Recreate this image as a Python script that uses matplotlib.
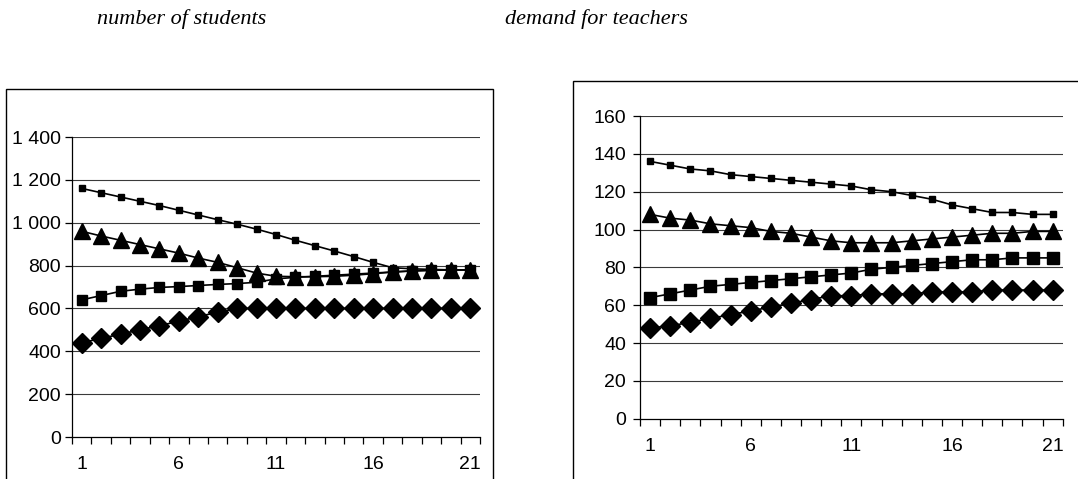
import matplotlib.pyplot as plt
import matplotlib.patches as mpatches
from matplotlib.ticker import FixedLocator, FuncFormatter, NullFormatter

periods = list(range(1, 22))

# number of students
students_a = [1160, 1140, 1120, 1100, 1080, 1058, 1036, 1014, 993, 970, 945,
              918, 893, 868, 842, 815, 790, 785, 782, 780, 780]
students_b = [960, 938, 918, 898, 878, 858, 835, 815, 790, 765, 750,
              748, 748, 750, 755, 762, 770, 775, 778, 780, 780]
students_c = [640, 660, 680, 690, 698, 702, 707, 712, 716, 722, 738,
              745, 750, 755, 760, 765, 770, 775, 778, 780, 780]
students_d = [440, 460, 480, 500, 520, 540, 562, 582, 600, 600, 600,
              600, 600, 600, 600, 600, 600, 600, 600, 600, 600]

# demand for teachers
teachers_a = [136, 134, 132, 131, 129, 128, 127, 126, 125, 124, 123,
              121, 120, 118, 116, 113, 111, 109, 109, 108, 108]
teachers_b = [108, 106, 105, 103, 102, 101, 99, 98, 96, 94, 93,
              93, 93, 94, 95, 96, 97, 98, 98, 99, 99]
teachers_c = [64, 66, 68, 70, 71, 72, 73, 74, 75, 76, 77,
              79, 80, 81, 82, 83, 84, 84, 85, 85, 85]
teachers_d = [48, 49, 51, 53, 55, 57, 59, 61, 63, 65, 65,
              66, 66, 66, 67, 67, 67, 68, 68, 68, 68]

x_labels = [1, 6, 11, 16, 21]

TICK_FONT = 'Liberation Sans'


def thousands(v, pos):
    return f"{int(v):,}".replace(',', ' ')


def style_axes(ax, ymax, ystep, fmt=None, ypad=5):
    ax.set_xlim(0.5, 21.5)
    ax.set_ylim(0, ymax)
    for s in ['top', 'right']:
        ax.spines[s].set_visible(False)
    for s in ['left', 'bottom']:
        ax.spines[s].set_color('black')
        ax.spines[s].set_linewidth(0.9)
    # category ticks between points, labels every 5th
    ax.xaxis.set_major_locator(FixedLocator([p - 0.5 for p in periods] + [21.5]))
    ax.xaxis.set_major_formatter(NullFormatter())
    ax.xaxis.set_minor_locator(FixedLocator(x_labels))
    ax.xaxis.set_minor_formatter(FuncFormatter(lambda v, p: f"{int(v)}"))
    ax.tick_params(axis='x', which='major', length=5, width=0.9, direction='out')
    ax.tick_params(axis='x', which='minor', length=0, pad=14)
    ax.set_yticks(range(0, ymax + 1, ystep))
    if fmt:
        ax.yaxis.set_major_formatter(FuncFormatter(fmt))
    ax.tick_params(axis='y', length=5, width=0.9, direction='out', pad=ypad)
    for lbl in ax.get_xticklabels(which='minor') + ax.get_yticklabels():
        lbl.set_fontfamily(TICK_FONT)
        lbl.set_fontsize(14)
    for v in range(ystep, ymax + 1, ystep):
        ax.axhline(v, color='#3a3a3a', linewidth=0.8, zorder=1)


fig = plt.figure(figsize=(10.78, 4.79), dpi=100)

# outer chart frames
fig.add_artist(mpatches.Rectangle((6 / 1078, -0.05), 487 / 1078, 1 - 89 / 479 + 0.05,
                                  transform=fig.transFigure, fill=False,
                                  edgecolor='black', linewidth=1.0))
fig.add_artist(mpatches.Rectangle((573 / 1078, -0.05), 0.5, 1 - 81 / 479 + 0.05,
                                  transform=fig.transFigure, fill=False,
                                  edgecolor='black', linewidth=1.0))

ax1 = fig.add_axes([72 / 1078, 1 - 437 / 479, 408 / 1078, 300 / 479])
ax2 = fig.add_axes([640 / 1078, 1 - 418.7 / 479, 422.7 / 1078, 302.7 / 479])

kw = dict(color='black', linewidth=1.2, zorder=3)
ax1.plot(periods, students_a, marker='s', markersize=4, **kw)
ax1.plot(periods, students_b, marker='^', markersize=12, **kw)
ax1.plot(periods, students_c, marker='s', markersize=7.5, **kw)
ax1.plot(periods, students_d, marker='D', markersize=10, **kw)
style_axes(ax1, 1400, 200, thousands, ypad=3)

ax2.plot(periods, teachers_a, marker='s', markersize=4.5, **kw)
ax2.plot(periods, teachers_b, marker='^', markersize=12, **kw)
ax2.plot(periods, teachers_c, marker='s', markersize=8.5, **kw)
ax2.plot(periods, teachers_d, marker='D', markersize=10, **kw)
style_axes(ax2, 160, 20)

fig.text(97 / 1078, 1 - 19 / 479, 'number of students', family='Liberation Serif',
         style='italic', fontsize=16, va='center', ha='left')
fig.text(505 / 1078, 1 - 19 / 479, 'demand for teachers', family='Liberation Serif',
         style='italic', fontsize=16, va='center', ha='left')

fig.savefig('out.png', dpi=100)
